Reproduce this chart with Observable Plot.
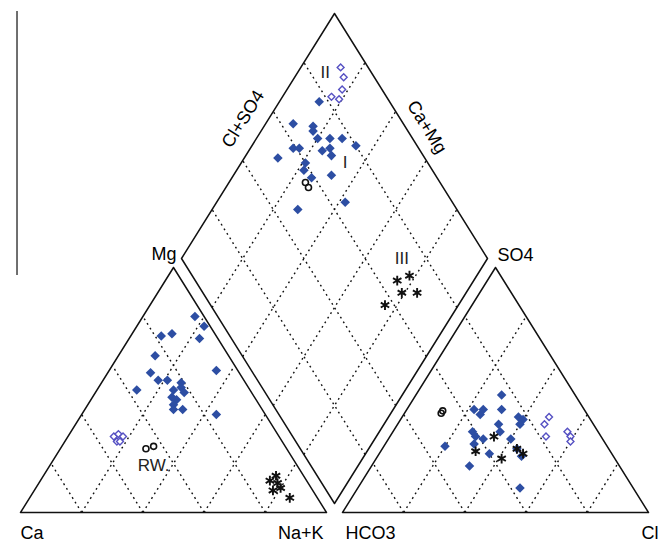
<!DOCTYPE html>
<html><head><meta charset="utf-8">
<script src="https://cdn.jsdelivr.net/npm/d3@7"></script>
<script src="https://cdn.jsdelivr.net/npm/@observablehq/plot@0.6"></script>
<style>html,body{margin:0;background:#fff}#chart svg{display:block}</style>
</head><body><div id="chart"></div>
<script>
// ---------- data (percent) ----------
// cation triangle: [Mg, Na+K]
const cationFilled = [[80,17],[76,22],[72,10],[73,13],[71,23],[64,12],[57,14],[54,18],[54,21],[53,26],[58,35],[50,13],[50,25],[51,27],[49,29],[47,26],[46,28],[44,28],[42,29],[42,32],[40,44]];
const cationOpen = [[31,15],[32,16],[31,18],[29,17],[29,18]];
const cationStar = [[15,76],[13,75],[9,78],[10,80],[6,85],[12,78]];
const cationRW = [[26,28],[27,30]];
// anion triangle: [SO4, Cl]
const anionFilled = [[48,28],[42,22],[40,25],[42,25],[42,31],[39,38],[38,40],[36,40],[36,33],[33,35],[33,26],[31,28],[30,31],[28,29],[30,40],[27,20],[24,36],[26,44],[23,47],[19,32],[10,53]];
const anionOpen = [[36,48],[39,48],[31,51],[33,57],[31,59],[29,60]];
const anionStar = [[31,34],[25,31],[22,41],[26,44],[24,47]];
const anionRW = [[41.5,12],[40.5,12]];
// diamond: [Ca+Mg, Cl+SO4]
const diamondFilled = [[87,77],[91,64],[84,70],[83,69],[80,69],[76,73],[72,77],[66,80],[86,59],[84,61],[76,68],[74,71],[72,70],[89,52],[79,60],[78,58],[74,59],[68,66],[58,65],[72,48]];
const diamondOpen = [[87,91],[84,90],[82,87],[84,82],[81,84]];
const diamondStar = [[22,71],[25,66],[21,65],[16,70],[24,57]];
const diamondRW = [[75,56],[73,56]];
const gridTicks = [20,40,60,80];
const cornerLabels = ["Ca","Na+K","Mg","HCO3","Cl","SO4"];
const edgeLabels = ["Cl+SO4","Ca+Mg"];
const groupLabels = ["II","I","III","RW."];

// ---------- layout ----------
const G = 0.0523, GY = 0.0367;
const L = (m, n) => ({x: n/100 + m/200, y: m/100});
const R = (s, c) => ({x: 1 + G + c/100 + s/200, y: s/100});
const D = (q, c) => ({x: 1 + G/2 + (c - q)/200, y: GY + q/100 + c/100});

const toL = a => a.map(([m,n]) => L(m,n));
const toR = a => a.map(([s,c]) => R(s,c));
const toD = a => a.map(([q,c]) => D(q,c));

const filled = [...toL(cationFilled), ...toR(anionFilled), ...toD(diamondFilled)];
const open = [...toL(cationOpen), ...toR(anionOpen), ...toD(diamondOpen)];
const stars = [...toL(cationStar), ...toR(anionStar), ...toD(diamondStar)];
const rw = [...toL(cationRW), ...toR(anionRW), ...toD(diamondRW)];

const outlines = [
  [L(0,0), L(100,0), L(0,100), L(0,0)].map(p => ({...p, k:"L"})),
  [R(0,0), R(100,0), R(0,100), R(0,0)].map(p => ({...p, k:"R"})),
  [D(0,0), D(100,0), D(100,100), D(0,100), D(0,0)].map(p => ({...p, k:"D"}))
].flat();

const grid = [];
for (const t of gridTicks) {
  grid.push([L(0,t), L(100-t,t)]);
  grid.push([L(0,100-t), L(100-t,0)]);
  grid.push([R(0,t), R(100-t,t)]);
  grid.push([R(0,100-t), R(100-t,0)]);
  grid.push([D(t,0), D(t,100)]);
  grid.push([D(0,t), D(100,t)]);
}
const links = grid.map(([a,b]) => ({x1:a.x, y1:a.y, x2:b.x, y2:b.y}));

const corners = [
  {...L(0,0), text:cornerLabels[0], anchor:"start", dx:0, dy:21},
  {...L(0,100), text:cornerLabels[1], anchor:"end", dx:-3, dy:21},
  {...L(100,0), text:cornerLabels[2], anchor:"end", dx:3, dy:-13},
  {...R(0,0), text:cornerLabels[3], anchor:"start", dx:3, dy:21},
  {...R(0,100), text:cornerLabels[4], anchor:"start", dx:-7, dy:21},
  {...R(100,0), text:cornerLabels[5], anchor:"start", dx:2, dy:-12}
];
const edges = [
  {...D(100,50), text:edgeLabels[0], rot:-58, dx:-15, dy:-17},
  {...D(50,100), text:edgeLabels[1], rot:58, dx:16, dy:-9}
];
const groups = [
  {...D(91,85), text:groupLabels[0]},
  {...D(66,73), text:groupLabels[1]},
  {...D(28,72), text:groupLabels[2]},
  {...L(19,34), text:groupLabels[3]}
];

const FONT = 18;
const chart = Plot.plot({
  width: 664, height: 543, margin: 0,
  style: {fontFamily: "'Liberation Sans', Arial, sans-serif", background: "#fff"},
  x: {domain: [0, 1], range: [20, 326], axis: null},
  y: {domain: [0, 1], range: [512, 267], axis: null},
  marks: [
    Plot.ruleX([-0.0114], {y1: 0.967, y2: 2.045, stroke: "#222", strokeWidth: 1.3}),
    Plot.link(links, {x1:"x1", y1:"y1", x2:"x2", y2:"y2", stroke:"#111", strokeWidth:1.4, strokeDasharray:"1.8,3.6"}),
    Plot.line(outlines, {x:"x", y:"y", z:"k", stroke:"#111", strokeWidth:1.5}),
    Plot.dot(filled, {x:"x", y:"y", symbol:"diamond2", r:4.3, fill:"#2d4ea3", stroke:"none"}),
    Plot.dot(open, {x:"x", y:"y", symbol:"diamond2", r:3.1, fill:"white", stroke:"#5651c3", strokeWidth:1.4}),
    Plot.dot(stars, {x:"x", y:"y", symbol:"asterisk", r:4.6, stroke:"#111", strokeWidth:1.9}),
    Plot.dot(rw, {x:"x", y:"y", symbol:"circle", r:3, fill:"none", stroke:"#111", strokeWidth:1.6}),
    ...corners.map(c => Plot.text([c], {x:"x", y:"y", text:"text", textAnchor:c.anchor, dx:c.dx, dy:c.dy, fontSize:FONT, fill:"#000"})),
    ...edges.map(e => Plot.text([e], {x:"x", y:"y", text:"text", rotate:e.rot, dx:e.dx, dy:e.dy, fontSize:FONT, fill:"#000"})),
    Plot.text(groups, {x:"x", y:"y", text:"text", fontSize:17, fill:"#222"})
  ]
});
document.getElementById("chart").appendChild(chart);
</script>
</body></html>
